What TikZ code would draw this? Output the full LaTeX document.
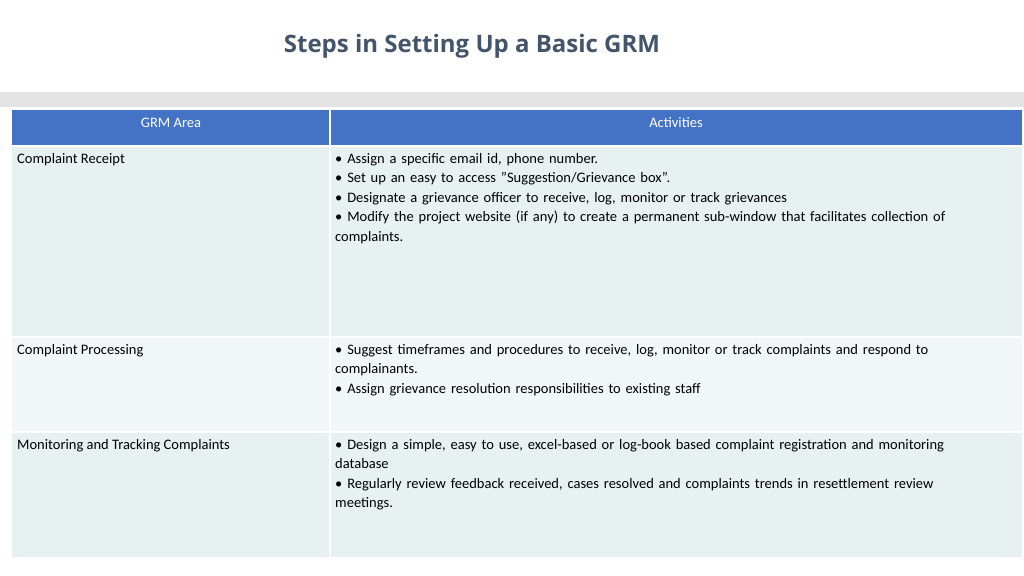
\documentclass[tikz,border=0pt]{standalone}
\usepackage{fontspec}
\setmainfont{Carlito}
\newfontfamily\titlefont{Open Sans}
\begin{document}
\begin{tikzpicture}[x=1pt,y=-1pt,
  cell/.style={anchor=north west,inner sep=0pt,align=left,font=\fontsize{14.5}{19.5}\selectfont},
  hdr/.style={anchor=center,inner sep=0pt,text=white,font=\fontsize{14.5}{19.5}\selectfont}]
\definecolor{hblue}{HTML}{4472C4}
\definecolor{rowa}{HTML}{E8F1F2}
\definecolor{rowb}{HTML}{F1F7F8}
\definecolor{tcol}{HTML}{44546A}
\useasboundingbox (0,0) rectangle (1024,575);
\fill[white] (0,0) rectangle (1024,575);
\node[font=\titlefont\bfseries\fontsize{24}{28}\selectfont,text=tcol] (title) at (472,46) {Steps in Setting Up a Basic GRM};
\fill[black!11] (0,92) rectangle (1024,107);
\fill[hblue] (12,110) rectangle (1022,146);
\fill[rowa] (12,146) rectangle (1022,337);
\fill[rowb] (12,337) rectangle (1022,432);
\fill[rowa] (12,432) rectangle (1022,557);
\draw[white,line width=1.5pt] (330,110) -- (330,557);
\draw[white,line width=1.5pt] (12,146) -- (1022,146) (12,337) -- (1022,337) (12,432) -- (1022,432);
\node[hdr] (h1) at (171,123) {GRM Area};
\node[hdr] (h2) at (676,123) {Activities};
\node[cell] (a1) at (17,153) {Complaint Receipt};
\node[cell] (a2) at (17,344) {Complaint Processing};
\node[cell] (a3) at (17,439) {Monitoring and Tracking Complaints};
\node[cell,text width=675pt] (b1) at (335,153) {• Assign a specific email id, phone number.\\
• Set up an easy to access "Suggestion/Grievance box”.\\
• Designate a grievance officer to receive, log, monitor or track grievances\\
• Modify the project website (if any) to create a permanent sub-window that facilitates collection of\\complaints.};
\node[cell,text width=675pt] (b2) at (335,344) {• Suggest timeframes and procedures to receive, log, monitor or track complaints and respond to\\complainants.\\
• Assign grievance resolution responsibilities to existing staff};
\node[cell,text width=675pt] (b3) at (335,439) {• Design a simple, easy to use, excel-based or log-book based complaint registration and monitoring\\database\\
• Regularly review feedback received, cases resolved and complaints trends in resettlement review\\meetings.};
\end{tikzpicture}
\end{document}
